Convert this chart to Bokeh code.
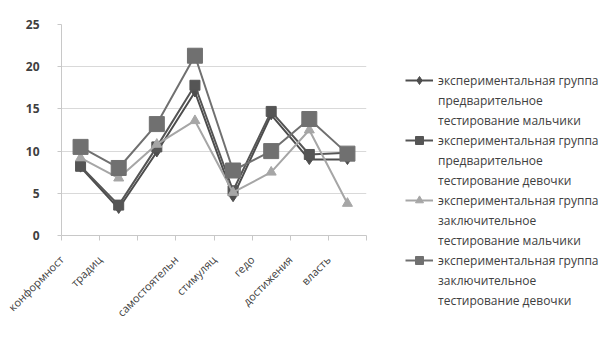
from math import pi
from bokeh.plotting import figure
from bokeh.models import FixedTicker, Range1d, Legend, LegendItem
from bokeh.embed import file_html
from bokeh.resources import INLINE

categories = ["конформност", "традиц", "", "самостоятельн", "стимуляц", "гедо", "достижения", "власть"]
boys_pre = [8.1, 3.2, 9.9, 17.0, 4.6, 14.3, 9.0, 9.0]
girls_pre = [8.2, 3.6, 10.5, 17.8, 5.3, 14.7, 9.6, 9.8]
boys_post = [9.2, 6.8, 10.8, 13.6, 5.1, 7.5, 12.5, 3.8]
girls_post = [10.5, 8.0, 13.2, 21.3, 7.7, 10.0, 13.8, 9.7]
series_names = [
    ["экспериментальная группа", "предварительное", "тестирование мальчики"],
    ["экспериментальная группа", "предварительное", "тестирование девочки"],
    ["экспериментальная группа", "заключительное", "тестирование мальчики"],
    ["экспериментальная группа", "заключительное", "тестирование девочки"],
]
y_ticks = [0, 5, 10, 15, 20, 25]

FONT = "Open Sans"
xs = list(range(1, len(categories) + 1))
label_pos = [x - 0.5 for x in xs]

p = figure(frame_width=305, frame_height=211, output_backend="svg", toolbar_location=None,
           x_range=Range1d(0.5, len(categories) + 0.5), y_range=Range1d(0, 25),
           min_border_left=61, min_border_top=24, min_border_right=0, min_border_bottom=109)
p.outline_line_color = None
p.xgrid.grid_line_color = None
p.ygrid.grid_line_color = "#d9d9d9"
p.ygrid.ticker = FixedTicker(ticks=y_ticks)

p.yaxis.ticker = FixedTicker(ticks=y_ticks)
p.yaxis.axis_line_color = "#c8c8c8"
p.yaxis.major_tick_line_color = "#c8c8c8"
p.yaxis.major_tick_out = 4
p.yaxis.major_tick_in = 0
p.yaxis.minor_tick_line_color = None
p.yaxis.major_label_standoff = 18
p.yaxis.major_label_text_font = FONT
p.yaxis.major_label_text_font_size = "12px"
p.yaxis.major_label_text_color = "#404040"
p.yaxis.major_label_text_font_style = "bold"

p.xaxis.ticker = FixedTicker(ticks=label_pos, minor_ticks=[x - 0.5 for x in xs] + [len(xs) + 0.5])
p.xaxis.major_label_overrides = {lp: c for lp, c in zip(label_pos, categories)}
p.xaxis.axis_line_color = "#c8c8c8"
p.xaxis.major_tick_line_color = None
p.xaxis.minor_tick_line_color = "#c8c8c8"
p.xaxis.minor_tick_out = 5
p.xaxis.minor_tick_in = 0
p.xaxis.major_label_orientation = pi / 4
p.xaxis.major_label_text_font = FONT
p.xaxis.major_label_text_font_size = "11px"
p.xaxis.major_label_text_color = "#404040"
p.xaxis.major_label_standoff = 16

c1, c2, c3, c4 = "#4d4d4d", "#555555", "#a6a6a6", "#707070"
series = [
    (boys_pre, c1, "diamond", 10),
    (girls_pre, c2, "square", 10),
    (boys_post, c3, "triangle", 10),
    (girls_post, c4, "square", 15),
]
blank = p.scatter(x=[], y=[], marker="square", size=1, fill_alpha=0, line_alpha=0)

items = []
for (vals, col, mk, sz), lines in zip(series, series_names):
    lr = p.line(xs, vals, line_color=col, line_width=2)
    sr = p.scatter(xs, vals, marker=mk, size=sz, color=col)
    items.append(LegendItem(label=lines[0], renderers=[lr, sr]))
    for extra in lines[1:]:
        items.append(LegendItem(label=extra, renderers=[blank]))

legend = Legend(items=items, location=(39, -75), orientation="vertical",
                glyph_width=28, glyph_height=20, label_height=20, label_standoff=5,
                spacing=0, padding=0, margin=0,
                label_text_font=FONT, label_text_font_size="12px", label_text_color="#404040",
                border_line_color=None, background_fill_alpha=0)
p.add_layout(legend, "right")

open("out.html", "w").write(file_html(p, INLINE))
